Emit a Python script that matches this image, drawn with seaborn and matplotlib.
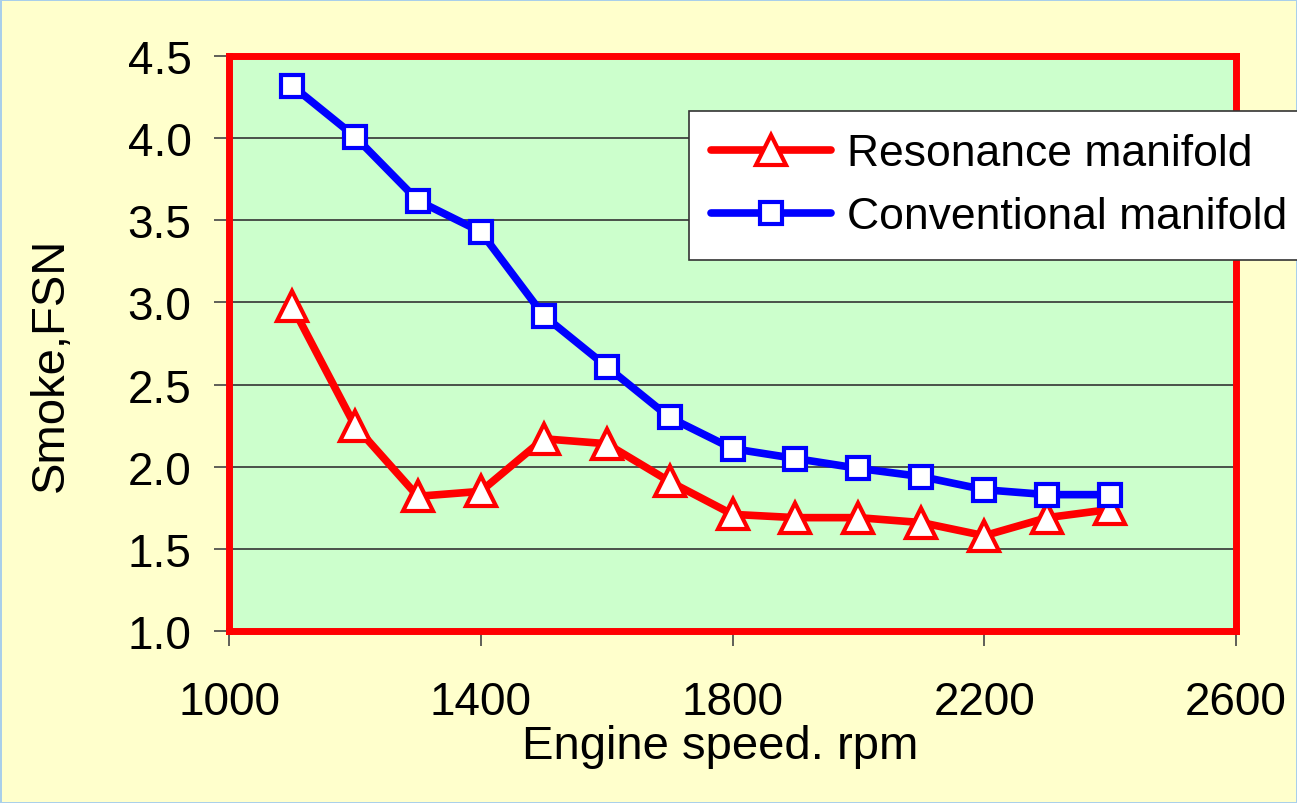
import matplotlib
matplotlib.use("Agg")
import matplotlib.pyplot as plt
from matplotlib import font_manager
import seaborn as sns
import pandas as pd

speed = [1100, 1200, 1300, 1400, 1500, 1600, 1700, 1800, 1900, 2000, 2100, 2200, 2300, 2400]
resonance = [2.98, 2.25, 1.82, 1.85, 2.17, 2.14, 1.91, 1.71, 1.69, 1.69, 1.66, 1.58, 1.69, 1.74]
conventional = [4.32, 4.01, 3.62, 3.43, 2.92, 2.61, 2.30, 2.11, 2.05, 1.99, 1.94, 1.86, 1.83, 1.83]
series_names = ["Resonance manifold", "Conventional manifold"]
x_ticks = [1000, 1400, 1800, 2200, 2600]
y_ticks = [1.0, 1.5, 2.0, 2.5, 3.0, 3.5, 4.0, 4.5]

sns.set_style("white")
names = {f.name for f in font_manager.fontManager.ttflist}
fam = "Liberation Sans Narrow" if "Liberation Sans Narrow" in names else "Liberation Sans"
plt.rcParams["font.family"] = [fam, "DejaVu Sans"]
plt.rcParams["text.color"] = "black"
plt.rcParams["axes.labelcolor"] = "black"
plt.rcParams["xtick.color"] = "black"
plt.rcParams["ytick.color"] = "black"

fig = plt.figure(figsize=(12.97, 8.04), dpi=100)
fig.patch.set_facecolor("#FFFFCC")
ax = fig.add_axes([229/1297, 1-632/804, (1236-229)/1297, (632-57)/804])
ax.set_facecolor("#CCFFCC")

df_r = pd.DataFrame({"speed": speed, "smoke": resonance})
df_c = pd.DataFrame({"speed": speed, "smoke": conventional})

sns.lineplot(data=df_r, x="speed", y="smoke", ax=ax, color="#FF0000", lw=5.5,
             marker="^", markersize=21, markerfacecolor="white", markeredgecolor="#FF0000",
             markeredgewidth=3, label=series_names[0], zorder=3)
sns.lineplot(data=df_c, x="speed", y="smoke", ax=ax, color="#0000FF", lw=5.5,
             marker="s", markersize=16, markerfacecolor="white", markeredgecolor="#0000FF",
             markeredgewidth=3, label=series_names[1], zorder=4)

ax.set_xlim(1000, 2600)
ax.set_ylim(1.0, 4.5)
ax.set_xticks(x_ticks)
ax.set_yticks(y_ticks)
ax.set_xticklabels([str(v) for v in x_ticks])
ax.set_yticklabels([f"{v:.1f}" for v in y_ticks])
ax.yaxis.grid(True, color="#333333", lw=1.2)
ax.set_axisbelow(True)
ax.tick_params(axis="both", direction="out", length=11, width=1.2, color="#444444",
               labelsize=33, labelcolor="black", bottom=True, left=True)
ax.tick_params(axis="y", pad=16)
ax.tick_params(axis="x", pad=24)
for s in ax.spines.values():
    s.set_color("#FF0000")
    s.set_linewidth(5)
    s.set_zorder(5)

ax.set_xlabel("Engine speed. rpm", fontsize=34, color="black")
ax.set_ylabel("Smoke,FSN", fontsize=34, color="black")
ax.xaxis.set_label_coords(0.4876, -0.162)
ax.yaxis.set_label_coords(-0.155, 0.464)

leg = ax.legend(loc="upper left", bbox_to_anchor=(689/1297, 1-112/804),
                bbox_transform=fig.transFigure, fontsize=32, frameon=True,
                fancybox=False, edgecolor="#333333", framealpha=1, facecolor="white",
                handlelength=2.7, borderpad=0.5, labelspacing=0.5, handletextpad=0.35,
                borderaxespad=0)
leg.get_frame().set_linewidth(1.2)
leg.set_zorder(10)
for t in leg.get_texts():
    t.set_color("black")

fig.patch.set_edgecolor("#A9CFEA")
fig.patch.set_linewidth(2)
fig.savefig("out.png", dpi=100, facecolor=fig.get_facecolor(), edgecolor=fig.get_edgecolor())
